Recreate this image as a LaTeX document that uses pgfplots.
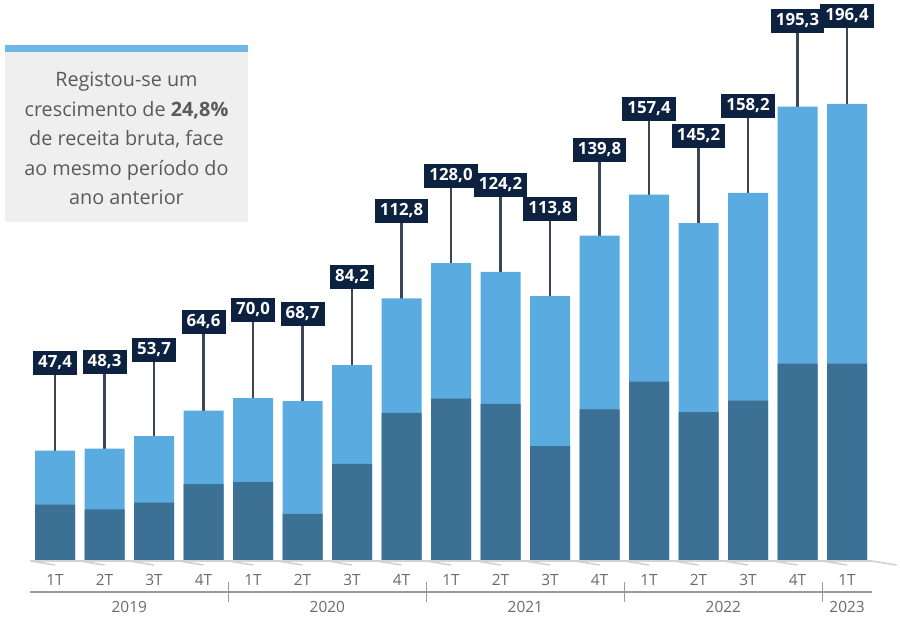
\documentclass[border=0pt]{standalone}
\usepackage{pgfplots}
\pgfplotsset{compat=1.18}
\usepackage{pgfplotstable}
\usepackage{fontspec}
\setmainfont{Open Sans}
\definecolor{lightbar}{HTML}{5AACE0}
\definecolor{darkbar}{HTML}{3C7094}
\definecolor{navy}{HTML}{0D2240}
\definecolor{stem}{HTML}{3A4556}
\definecolor{boxgrey}{HTML}{EFEFEF}
\definecolor{strip}{HTML}{6DB6E6}
\definecolor{txtgrey}{HTML}{5A5A5A}
\definecolor{tickgrey}{HTML}{6A6A6A}
\definecolor{axgrey}{HTML}{D2D2D2}
\definecolor{yrline}{HTML}{9A9A9A}

\pgfplotstableread{
x total dark ly lbl
0 47.4 24.2 85.1 47,4
1 48.3 22.2 85.7 48,3
2 53.7 25.1 90.7 53,7
3 64.6 33.0 102.7 64,6
4 70.0 33.9 107.9 70,0
5 68.7 20.2 106.1 68,7
6 84.2 41.7 122.0 84,2
7 112.8 63.7 150.2 112,8
8 128.0 69.8 165.4 128,0
9 124.2 67.5 161.7 124,2
10 113.8 49.4 151.3 113,8
11 139.8 65.2 176.6 139,8
12 157.4 77.1 194.1 157,4
13 145.2 64.0 182.5 145,2
14 158.2 68.9 195.5 158,2
15 195.3 84.8 232.1 195,3
16 196.4 84.8 234.4 196,4
}\datatable

\begin{document}
\begin{tikzpicture}
\begin{axis}[
  scale only axis,
  width=420.75bp, height=280.5bp,
  xmin=-0.5, xmax=16.5, ymin=0, ymax=241.07,
  axis lines=none,
  clip=false,
]
% stems (drawn first, covered by bars)
\addplot[ycomb, draw=stem, line width=1.1bp, mark=none] table[x=x, y=ly] {\datatable};
% total (light) bars
\addplot[ybar, bar width=20bp, bar shift=0pt, fill=lightbar, draw=none] table[x=x, y=total] {\datatable};
% dark lower part
\addplot[ybar, bar width=20bp, bar shift=0pt, fill=darkbar, draw=none] table[x=x, y=dark] {\datatable};
% value labels
\addplot[draw=none, mark=none, nodes near coords, point meta=explicit symbolic,
  nodes near coords align={anchor=center},
  every node near coord/.style={fill=navy, text=white, font=\fontsize{8.4bp}{9bp}\selectfont\bfseries,
    inner xsep=2.6bp, inner ysep=0pt, text height=6.1bp, text depth=1.6bp, minimum height=12bp, anchor=center}]
  table[x=x, y=ly, meta=lbl] {\datatable};

% baseline and small ticks
\draw[axgrey, line width=0.8bp] (axis cs:-0.5,0) -- (axis cs:16.5,0);
\pgfplotsinvokeforeach{-0.5,0.5,1.5,2.5,3.5,4.5,5.5,6.5,7.5,8.5,9.5,10.5,11.5,12.5,13.5,14.5,15.5,16.5}{
  \draw[axgrey, line width=0.8bp] (axis cs:#1,0) -- ++(0,-2bp);
}
% quarter labels
\pgfplotsinvokeforeach{0,4,8,12}{
  \node[text=tickgrey, font=\fontsize{7.7bp}{9bp}\selectfont] at ([yshift=-9.5bp]axis cs:#1,0) {1T};
  \node[text=tickgrey, font=\fontsize{7.7bp}{9bp}\selectfont] at ([yshift=-9.5bp]axis cs:#1+1,0) {2T};
  \node[text=tickgrey, font=\fontsize{7.7bp}{9bp}\selectfont] at ([yshift=-9.5bp]axis cs:#1+2,0) {3T};
  \node[text=tickgrey, font=\fontsize{7.7bp}{9bp}\selectfont] at ([yshift=-9.5bp]axis cs:#1+3,0) {4T};
}
\node[text=tickgrey, font=\fontsize{7.7bp}{9bp}\selectfont] at ([yshift=-9.5bp]axis cs:16,0) {1T};
% year line and separators
\draw[yrline, line width=0.7bp] ([yshift=-15.5bp]axis cs:-0.5,0) -- ([yshift=-15.5bp]axis cs:16.5,0);
\pgfplotsinvokeforeach{3.5,7.5,11.5,15.5}{
  \draw[yrline, line width=0.7bp] ([yshift=-10.5bp]axis cs:#1,0) -- ([yshift=-20.5bp]axis cs:#1,0);
}
% year labels
\node[text=tickgrey, font=\fontsize{7.7bp}{9bp}\selectfont] at ([yshift=-23bp]axis cs:1.5,0) {2019};
\node[text=tickgrey, font=\fontsize{7.7bp}{9bp}\selectfont] at ([yshift=-23bp]axis cs:5.5,0) {2020};
\node[text=tickgrey, font=\fontsize{7.7bp}{9bp}\selectfont] at ([yshift=-23bp]axis cs:9.5,0) {2021};
\node[text=tickgrey, font=\fontsize{7.7bp}{9bp}\selectfont] at ([yshift=-23bp]axis cs:13.5,0) {2022};
\node[text=tickgrey, font=\fontsize{7.7bp}{9bp}\selectfont] at ([yshift=-23bp]axis cs:16,0) {2023};

% text box
\fill[boxgrey] (axis cs:-1.011,145.7) rectangle (axis cs:3.898,218.7);
\fill[strip] (axis cs:-1.011,218.7) rectangle (axis cs:3.898,221.7);
\node[text=txtgrey, align=center, font=\fontsize{9.9bp}{14.75bp}\selectfont] at (axis cs:1.443,181.6)
  {Registou-se um\\crescimento de \textbf{24,8\%}\\de receita bruta, face\\ao mesmo período do\\ano anterior};
\end{axis}
\pgfresetboundingbox
\path ([shift={(-15.15bp,-33.5bp)}]current axis.south west) rectangle ([shift={(14.1bp,0bp)}]current axis.north east);
\end{tikzpicture}
\end{document}
